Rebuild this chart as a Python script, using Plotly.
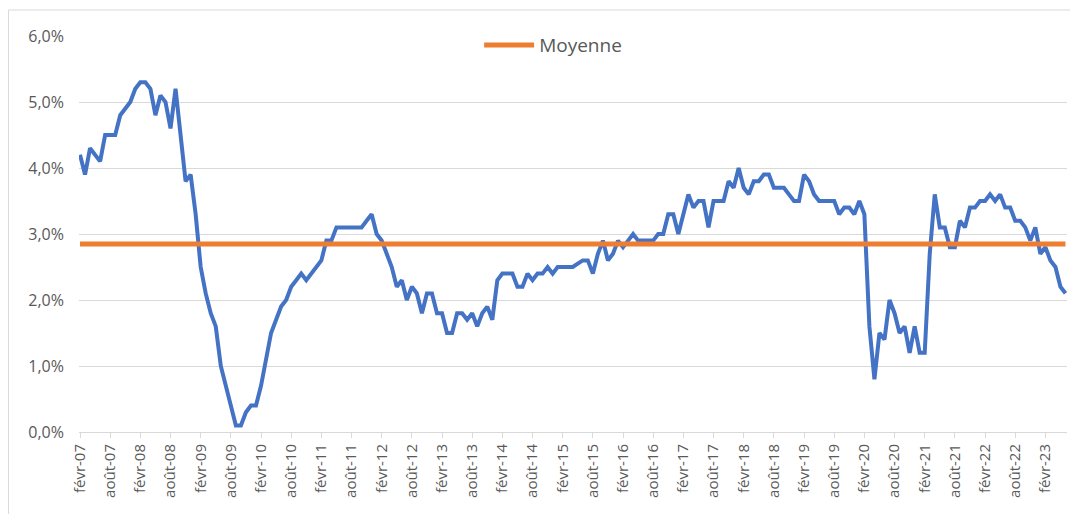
import plotly.graph_objects as go

# Monthly series, Feb 2007 -> Jun 2023 (in %)
taux = [
    4.2, 3.9, 4.3, 4.2, 4.1, 4.5, 4.5, 4.5, 4.8, 4.9, 5.0, 5.2,   # 2007-02 .. 2008-01
    5.3, 5.3, 5.2, 4.8, 5.1, 5.0, 4.6, 5.2, 4.5, 3.8, 3.9, 3.3,   # 2008-02 .. 2009-01
    2.5, 2.1, 1.8, 1.6, 1.0, 0.7, 0.4, 0.1, 0.1, 0.3, 0.4, 0.4,   # 2009-02 .. 2010-01
    0.7, 1.1, 1.5, 1.7, 1.9, 2.0, 2.2, 2.3, 2.4, 2.3, 2.4, 2.5,   # 2010-02 .. 2011-01
    2.6, 2.9, 2.9, 3.1, 3.1, 3.1, 3.1, 3.1, 3.1, 3.2, 3.3, 3.0,   # 2011-02 .. 2012-01
    2.9, 2.7, 2.5, 2.2, 2.3, 2.0, 2.2, 2.1, 1.8, 2.1, 2.1, 1.8,   # 2012-02 .. 2013-01
    1.8, 1.5, 1.5, 1.8, 1.8, 1.7, 1.8, 1.6, 1.8, 1.9, 1.7, 2.3,   # 2013-02 .. 2014-01
    2.4, 2.4, 2.4, 2.2, 2.2, 2.4, 2.3, 2.4, 2.4, 2.5, 2.4, 2.5,   # 2014-02 .. 2015-01
    2.5, 2.5, 2.5, 2.55, 2.6, 2.6, 2.4, 2.7, 2.9, 2.6, 2.7, 2.9,  # 2015-02 .. 2016-01
    2.8, 2.9, 3.0, 2.9, 2.9, 2.9, 2.9, 3.0, 3.0, 3.3, 3.3, 3.0,   # 2016-02 .. 2017-01
    3.3, 3.6, 3.4, 3.5, 3.5, 3.1, 3.5, 3.5, 3.5, 3.8, 3.7, 4.0,   # 2017-02 .. 2018-01
    3.7, 3.6, 3.8, 3.8, 3.9, 3.9, 3.7, 3.7, 3.7, 3.6, 3.5, 3.5,   # 2018-02 .. 2019-01
    3.9, 3.8, 3.6, 3.5, 3.5, 3.5, 3.5, 3.3, 3.4, 3.4, 3.3, 3.5,   # 2019-02 .. 2020-01
    3.3, 1.6, 0.8, 1.5, 1.4, 2.0, 1.8, 1.5, 1.6, 1.2, 1.6, 1.2,   # 2020-02 .. 2021-01
    1.2, 2.7, 3.6, 3.1, 3.1, 2.8, 2.8, 3.2, 3.1, 3.4, 3.4, 3.5,   # 2021-02 .. 2022-01
    3.5, 3.6, 3.5, 3.6, 3.4, 3.4, 3.2, 3.2, 3.1, 2.9, 3.1, 2.7,   # 2022-02 .. 2023-01
    2.8, 2.6, 2.5, 2.2, 2.1,                                      # 2023-02 .. 2023-06
]
moyenne = 2.85

tick_labels = [
    "févr-07", "août-07", "févr-08", "août-08", "févr-09", "août-09",
    "févr-10", "août-10", "févr-11", "août-11", "févr-12", "août-12",
    "févr-13", "août-13", "févr-14", "août-14", "févr-15", "août-15",
    "févr-16", "août-16", "févr-17", "août-17", "févr-18", "août-18",
    "févr-19", "août-19", "févr-20", "août-20", "févr-21", "août-21",
    "févr-22", "août-22", "févr-23",
]
y_ticks = [0, 1, 2, 3, 4, 5, 6]
y_labels = ["0,0%", "1,0%", "2,0%", "3,0%", "4,0%", "5,0%", "6,0%"]

mois = list(range(len(taux)))
tick_pos = [6 * i for i in range(len(tick_labels))]

GRAY_TXT = "#595959"
GRID = "#d9d9d9"
FONT = "Open Sans"

fig = go.Figure()
fig.add_trace(go.Scatter(
    x=mois, y=taux, mode="lines", name="Taux",
    line=dict(color="#4472C4", width=4, shape="linear"),
    showlegend=False,
))
fig.add_trace(go.Scatter(
    x=mois, y=[moyenne] * len(mois), mode="lines", name="Moyenne",
    line=dict(color="#ED7D31", width=5),
    showlegend=True,
))

# page body has an 8px margin: figure occupies page area (8..1078, 8..514)
fig.update_layout(
    width=1070, height=506,
    margin=dict(l=71, r=11, t=28, b=82, pad=0),
    paper_bgcolor="white", plot_bgcolor="white",
    font=dict(family=FONT, color=GRAY_TXT),
    legend=dict(
        orientation="h", x=0.405, xanchor="left", y=0.977, yanchor="middle",
        font=dict(size=19, color=GRAY_TXT, family=FONT),
        bgcolor="rgba(0,0,0,0)", itemwidth=50,
    ),
    xaxis=dict(
        range=[-0.2, len(taux) - 1 + 0.3],
        tickmode="array", tickvals=tick_pos, ticktext=tick_labels,
        tickangle=-90, tickfont=dict(size=15, color=GRAY_TXT, family=FONT),
        ticks="outside", ticklen=5, tickcolor=GRID, tickwidth=1,
        showline=True, linecolor=GRID, linewidth=1,
        showgrid=False, zeroline=False,
    ),
    yaxis=dict(
        range=[0, 6],
        tickmode="array", tickvals=y_ticks, ticktext=y_labels,
        tickfont=dict(size=16, color=GRAY_TXT, family=FONT),
        showgrid=True, gridcolor=GRID, gridwidth=1,
        zeroline=False, showline=False, ticks="",
        ticklabelstandoff=14,
    ),
    shapes=[dict(
        type="rect", xref="paper", yref="paper",
        x0=-0.0714, x1=1.0101, y0=-0.25, y1=1.0657,
        line=dict(color=GRID, width=1), fillcolor="rgba(0,0,0,0)", layer="below",
    )],
)

fig.write_html("out.html")
